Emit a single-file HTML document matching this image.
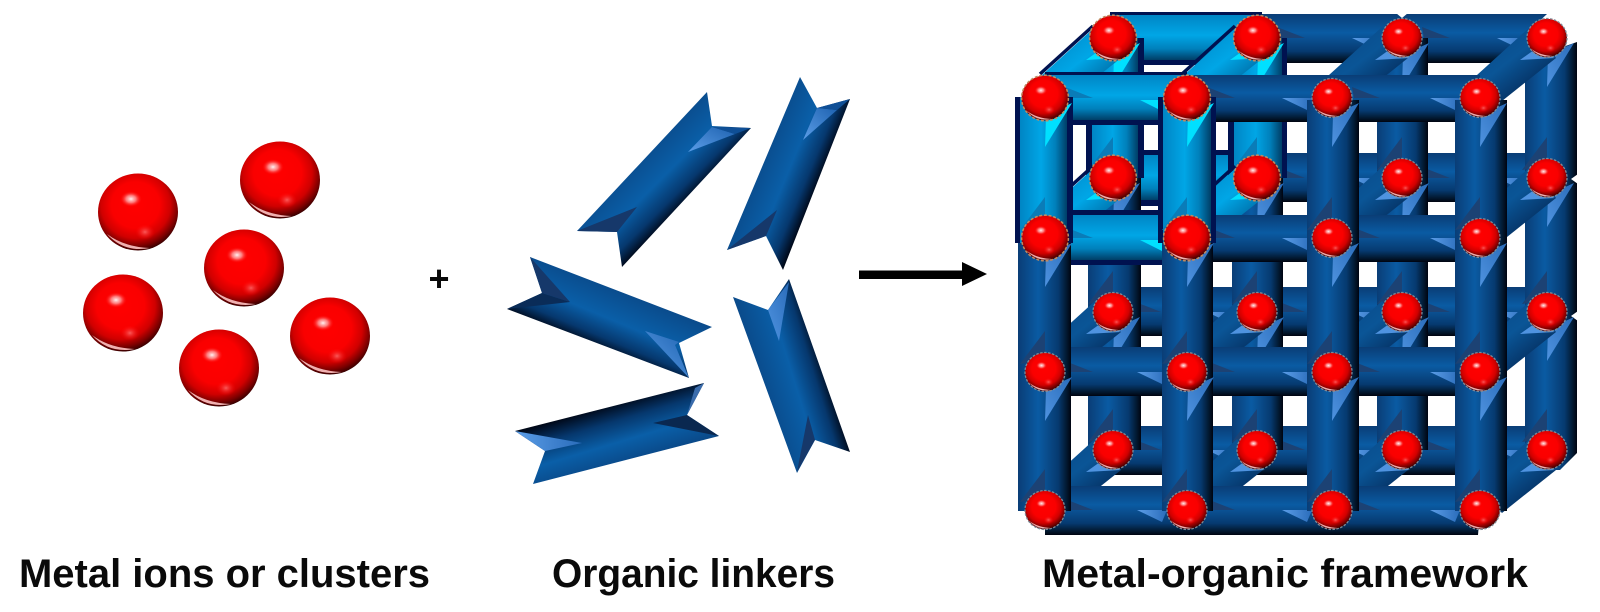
<!DOCTYPE html>
<html>
<head>
<meta charset="utf-8">
<title>Metal-organic framework</title>
<style>
html,body{margin:0;padding:0;background:#fff}
svg{display:block}
text{font-family:"Liberation Sans",sans-serif;font-weight:700;fill:#0a0a0a}
.bh{fill:url(#bh)}.bv{fill:url(#bv)}.ch{fill:url(#ch)}.cv{fill:url(#cv)}.nv{fill:#001250}
</style>
</head>
<body>
<svg width="1600" height="612" viewBox="0 0 1600 612" xmlns="http://www.w3.org/2000/svg">
<defs>
<linearGradient id="bh" x1="0" y1="0" x2="0" y2="1"><stop offset="0" stop-color="#0a3d76"/><stop offset=".38" stop-color="#0a5ba3"/><stop offset=".52" stop-color="#0a4f90"/><stop offset=".76" stop-color="#063a70"/><stop offset=".92" stop-color="#02182f"/><stop offset="1" stop-color="#000410"/></linearGradient>
<linearGradient id="bv" x1="0" y1="0" x2="1" y2="0"><stop offset="0" stop-color="#0a3d76"/><stop offset=".38" stop-color="#0a5ba3"/><stop offset=".52" stop-color="#0a4f90"/><stop offset=".76" stop-color="#063a70"/><stop offset=".92" stop-color="#02182f"/><stop offset="1" stop-color="#000410"/></linearGradient>
<linearGradient id="ch" x1="0" y1="0" x2="0" y2="1"><stop offset="0" stop-color="#0085c4"/><stop offset=".45" stop-color="#00a6e6"/><stop offset=".75" stop-color="#0080bb"/><stop offset="1" stop-color="#003e66"/></linearGradient>
<linearGradient id="cv" x1="0" y1="0" x2="1" y2="0"><stop offset="0" stop-color="#0085c4"/><stop offset=".45" stop-color="#00a6e6"/><stop offset=".75" stop-color="#0080bb"/><stop offset="1" stop-color="#003e66"/></linearGradient>
<linearGradient id="dg" x1=".15" y1=".1" x2=".85" y2=".95"><stop offset="0" stop-color="#0a4a8a"/><stop offset=".4" stop-color="#0a5596"/><stop offset=".75" stop-color="#06366a"/><stop offset="1" stop-color="#000c24"/></linearGradient>
<linearGradient id="cg" x1=".15" y1=".1" x2=".85" y2=".95"><stop offset="0" stop-color="#0088c8"/><stop offset=".45" stop-color="#00a6e6"/><stop offset=".8" stop-color="#006fa8"/><stop offset="1" stop-color="#002848"/></linearGradient>
<radialGradient id="rg" cx=".47" cy=".41" r=".6"><stop offset="0" stop-color="#ff0000"/><stop offset=".5" stop-color="#fa0000"/><stop offset=".72" stop-color="#d00000"/><stop offset=".88" stop-color="#7c0000"/><stop offset="1" stop-color="#300000"/></radialGradient>
<radialGradient id="wg"><stop offset="0" stop-color="#fff" stop-opacity=".95"/><stop offset=".45" stop-color="#ffb0b0" stop-opacity=".7"/><stop offset="1" stop-color="#ff0000" stop-opacity="0"/></radialGradient>
<radialGradient id="pg"><stop offset="0" stop-color="#ff7070" stop-opacity=".8"/><stop offset="1" stop-color="#ff0000" stop-opacity="0"/></radialGradient>
<linearGradient id="l1" gradientUnits="userSpaceOnUse" x1="640" y1="150" x2="690" y2="200"><stop offset="0" stop-color="#0a4a8a"/><stop offset=".5" stop-color="#0a5fa8"/><stop offset=".8" stop-color="#06386e"/><stop offset="1" stop-color="#000818"/></linearGradient>
<linearGradient id="l2" gradientUnits="userSpaceOnUse" x1="760" y1="155" x2="820" y2="180"><stop offset="0" stop-color="#0a4a8a"/><stop offset=".5" stop-color="#0a5fa8"/><stop offset=".8" stop-color="#06386e"/><stop offset="1" stop-color="#000818"/></linearGradient>
<linearGradient id="l3" gradientUnits="userSpaceOnUse" x1="625" y1="290" x2="600" y2="350"><stop offset="0" stop-color="#0a4a8a"/><stop offset=".5" stop-color="#0a5fa8"/><stop offset=".8" stop-color="#06386e"/><stop offset="1" stop-color="#000818"/></linearGradient>
<linearGradient id="l4" gradientUnits="userSpaceOnUse" x1="760" y1="385" x2="825" y2="365"><stop offset="0" stop-color="#0a4a8a"/><stop offset=".5" stop-color="#0a5fa8"/><stop offset=".8" stop-color="#06386e"/><stop offset="1" stop-color="#000818"/></linearGradient>
<linearGradient id="l5" gradientUnits="userSpaceOnUse" x1="608" y1="405" x2="625" y2="462"><stop offset="0" stop-color="#000818"/><stop offset=".3" stop-color="#06386e"/><stop offset=".65" stop-color="#0a5fa8"/><stop offset="1" stop-color="#0a4a8a"/></linearGradient>
<linearGradient id="hl" x1="0" y1="1" x2="1" y2="0"><stop offset="0" stop-color="#5c9ee8"/><stop offset="1" stop-color="#1e62b0"/></linearGradient>
<linearGradient id="hv" x1="0" y1="1" x2="1" y2="0"><stop offset="0" stop-color="#4f93e0"/><stop offset="1" stop-color="#2a6cba"/></linearGradient>
<linearGradient id="hh" x1="0" y1="0" x2="1" y2="0"><stop offset="0" stop-color="#5c9ee8"/><stop offset="1" stop-color="#2a6cba"/></linearGradient>

<g id="s">
<ellipse rx="40" ry="38.5" fill="url(#rg)"/>
<path d="M-31 22Q-14 35 12 36Q-14 41 -31 22Z" fill="#f0b0b0"/>
<ellipse cx="-7" cy="-13" rx="11" ry="8" fill="url(#wg)"/>
<ellipse cx="7" cy="20" rx="10" ry="8" fill="url(#pg)"/>
</g>
<g id="st"><use href="#s"/><ellipse rx="40" ry="39" fill="none" stroke="#c08a60" stroke-width="2.6" stroke-dasharray="5 3"/></g>
<g id="sg"><use href="#s"/><ellipse rx="40" ry="39" fill="none" stroke="#7f8a96" stroke-width="2.6" stroke-dasharray="5 3"/></g>

<polygon id="d" points="-3,-23 50,-71 76,-40 22,3" fill="url(#dg)"/>
<g id="dc"><polygon points="-3,-23 50,-71 76,-40 22,3" fill="url(#cg)"/><path d="M-5 -24L48 -72" stroke="#001250" stroke-width="3.5" fill="none"/></g>
<polygon id="m" points="-27,22 -13,12 8,20" fill="#4f93e0"/>
<polygon id="mc" points="-27,22 -13,12 8,20" fill="#00e0ff"/>
<polygon id="a" points="-50,0 -25,12 -20,0" fill="url(#hh)"/>
<polygon id="b" points="20,-11 48,0 22,0" fill="#1c4274"/>
<polygon id="c" points="0,49 27,5 1,17" fill="url(#hv)"/>
<polygon id="e" points="0,-41 -25,-8 0,-12" fill="#1c4274"/>
<polygon id="ac" points="-47,2 -25,13 -20,2" fill="#00e0ff"/>
<polygon id="bc" points="20,-11 48,0 22,0" fill="#0a7cb8"/>
<polygon id="cc" points="0,49 27,5 1,17" fill="#00e0ff"/>
<polygon id="ec" points="0,-41 -25,-8 0,-12" fill="#0a7cb8"/>
</defs>

<rect width="1600" height="612" fill="#fff"/>

<!-- metal ions -->
<use href="#s" x="138" y="212"/>
<use href="#s" x="280" y="180"/>
<use href="#s" x="244" y="268"/>
<use href="#s" x="123" y="313"/>
<use href="#s" x="219" y="368"/>
<use href="#s" x="330" y="336"/>

<text x="439" y="291" font-size="36" text-anchor="middle">+</text>

<!-- linkers -->
<polygon points="707,92 712,126 751,128 622,267 617,232 577,231" fill="url(#l1)"/>
<polygon points="688,152 712,127 735,134" fill="url(#hl)"/><polygon points="712,127 751,128 735,134" fill="#0f4f96"/>
<polygon points="577,231 637,207 617,232" fill="#16386a"/>

<polygon points="800,77 817,108 850,99 783,270 766,236 727,250" fill="url(#l2)"/>
<polygon points="803,140 817,108 837,110" fill="url(#hl)"/><polygon points="817,108 850,99 837,110" fill="#0f4f96"/>
<polygon points="727,250 777,210 766,236" fill="#16386a"/>

<polygon points="530,257 712,327 679,343 689,378 507,309 542,293" fill="url(#l3)"/>
<polygon points="645,331 679,342 675,345 689,378" fill="url(#hl)"/>
<polygon points="530,257 570,302 542,293" fill="#16386a"/>
<polygon points="507,309 542,293 570,302" fill="#0a2c58"/>

<polygon points="733,297 768,310 789,279 850,452 815,440 797,473" fill="url(#l4)"/>
<polygon points="768,310 789,282 779,341" fill="url(#hv)"/>
<polygon points="797,472 808,415 815,440" fill="#16386a"/>

<polygon points="704,383 687,415 719,436 533,484 545,451 515,431" fill="url(#l5)"/>
<polygon points="515,431 582,443 545,451" fill="url(#hh)"/>
<polygon points="719,436 687,415 653,423" fill="#0a2850"/>
<polygon points="704,383 687,415 695,388" fill="#3a6cac"/>

<!-- arrow -->
<rect x="859" y="270.5" width="104" height="8.5" fill="#000"/>
<polygon points="962,262 987,274 962,286" fill="#000"/>

<!-- back horizontals -->
<polygon points="1257,14 1547,14 1530,30 1530,63 1257,63" class="bh"/>
<rect x="1257" y="153" width="290" height="49" class="bh"/>
<rect x="1113" y="287" width="434" height="49" class="bh"/>
<rect x="1113" y="426" width="434" height="49" class="bh"/>
<polygon points="1396,13 1408,13 1402,18" fill="#fff"/>
<rect x="1110" y="12" width="152" height="53" class="nv"/><rect x="1110" y="15" width="152" height="45" class="ch"/>
<rect x="1113" y="150" width="144" height="56" class="nv"/><rect x="1113" y="155" width="144" height="45" class="ch"/>
<g>
<use href="#b" x="1257" y="38"/><use href="#a" x="1402" y="38"/><use href="#b" x="1402" y="38"/><use href="#a" x="1547" y="38"/>
<use href="#b" x="1257" y="178"/><use href="#a" x="1402" y="178"/><use href="#b" x="1402" y="178"/><use href="#a" x="1547" y="178"/>
<use href="#b" x="1113" y="312"/><use href="#a" x="1257" y="312"/><use href="#b" x="1257" y="312"/><use href="#a" x="1402" y="312"/><use href="#b" x="1402" y="312"/><use href="#a" x="1547" y="312"/>
<use href="#b" x="1113" y="450"/><use href="#a" x="1257" y="450"/><use href="#b" x="1257" y="450"/><use href="#a" x="1402" y="450"/><use href="#b" x="1402" y="450"/><use href="#a" x="1547" y="450"/>
</g>

<!-- back verticals -->
<rect x="1088" y="178" width="53" height="272" class="bv"/>
<rect x="1232" y="178" width="51" height="272" class="bv"/>
<rect x="1377" y="38" width="51" height="412" class="bv"/>
<polygon points="1525,60 1577,42 1577,453 1560,470 1525,470" class="bv"/>
<polygon points="1578,174 1571,179 1578,184" fill="#fff"/>
<polygon points="1578,311 1571,316 1578,321" fill="#fff"/>
<rect x="1086" y="38" width="58" height="140" class="nv"/><rect x="1092" y="38" width="46" height="140" class="cv"/>
<rect x="1228" y="38" width="59" height="140" class="nv"/><rect x="1234" y="38" width="48" height="140" class="cv"/>
<g>
<use href="#c" x="1113" y="178"/><use href="#e" x="1113" y="312"/><use href="#c" x="1113" y="312"/><use href="#e" x="1113" y="450"/>
<use href="#c" x="1257" y="178"/><use href="#e" x="1257" y="312"/><use href="#c" x="1257" y="312"/><use href="#e" x="1257" y="450"/>
<use href="#c" x="1402" y="38"/><use href="#e" x="1402" y="178"/><use href="#c" x="1402" y="178"/><use href="#e" x="1402" y="312"/><use href="#c" x="1402" y="312"/><use href="#e" x="1402" y="450"/>
<use href="#c" x="1547" y="38"/><use href="#e" x="1547" y="178"/><use href="#c" x="1547" y="178"/><use href="#e" x="1547" y="312"/><use href="#c" x="1547" y="312"/><use href="#e" x="1547" y="450"/>
<use href="#ec" x="1113" y="178"/><use href="#cc" x="1113" y="38"/>
<use href="#ec" x="1257" y="178"/><use href="#cc" x="1257" y="38"/>
</g>

<!-- diagonals -->
<use href="#dc" x="1045" y="98"/><use href="#dc" x="1187" y="98"/>
<use href="#d" x="1332" y="98"/><use href="#d" x="1480" y="98"/>
<use href="#dc" x="1045" y="238"/><use href="#dc" x="1187" y="238"/>
<use href="#d" x="1332" y="238"/><use href="#d" x="1480" y="238"/>
<use href="#d" x="1045" y="372"/><use href="#d" x="1187" y="372"/><use href="#d" x="1332" y="372"/><use href="#d" x="1480" y="372"/>
<use href="#d" x="1045" y="510"/><use href="#d" x="1187" y="510"/><use href="#d" x="1332" y="510"/><use href="#d" x="1480" y="510"/>
<g>
<use href="#mc" x="1113" y="38"/><use href="#mc" x="1257" y="38"/><use href="#m" x="1402" y="38"/><use href="#m" x="1547" y="38"/>
<use href="#mc" x="1113" y="178"/><use href="#mc" x="1257" y="178"/><use href="#m" x="1402" y="178"/><use href="#m" x="1547" y="178"/>
<use href="#m" x="1113" y="312"/><use href="#m" x="1257" y="312"/><use href="#m" x="1402" y="312"/><use href="#m" x="1547" y="312"/>
<use href="#m" x="1113" y="450"/><use href="#m" x="1257" y="450"/><use href="#m" x="1402" y="450"/><use href="#m" x="1547" y="450"/>
</g>

<!-- back spheres -->
<use href="#st" transform="translate(1113 38) scale(.585)"/><use href="#st" transform="translate(1257 38) scale(.585)"/>
<use href="#sg" transform="translate(1402 38) scale(.5)"/><use href="#sg" transform="translate(1547 38) scale(.5)"/>
<use href="#st" transform="translate(1113 178) scale(.585)"/><use href="#st" transform="translate(1257 178) scale(.585)"/>
<use href="#sg" transform="translate(1402 178) scale(.5)"/><use href="#sg" transform="translate(1547 178) scale(.5)"/>
<use href="#sg" transform="translate(1113 312) scale(.5)"/><use href="#sg" transform="translate(1257 312) scale(.5)"/>
<use href="#sg" transform="translate(1402 312) scale(.5)"/><use href="#sg" transform="translate(1547 312) scale(.5)"/>
<use href="#sg" transform="translate(1113 450) scale(.5)"/><use href="#sg" transform="translate(1257 450) scale(.5)"/>
<use href="#sg" transform="translate(1402 450) scale(.5)"/><use href="#sg" transform="translate(1547 450) scale(.5)"/>

<!-- front horizontals -->
<rect x="1187" y="75" width="293" height="47" class="bh"/>
<rect x="1187" y="215" width="293" height="47" class="bh"/>
<rect x="1045" y="347" width="435" height="49" class="bh"/>
<polygon points="1071,486 1455,486 1480,511 1478,535 1045,535 1045,511" class="bh"/>
<rect x="1045" y="72" width="142" height="53" class="nv"/><rect x="1045" y="75" width="142" height="45" class="ch"/>
<rect x="1045" y="210" width="142" height="55" class="nv"/><rect x="1045" y="215" width="142" height="45" class="ch"/>
<g>
<use href="#bc" x="1045" y="98"/><use href="#ac" x="1187" y="98"/><use href="#b" x="1187" y="98"/><use href="#a" x="1332" y="98"/><use href="#b" x="1332" y="98"/><use href="#a" x="1480" y="98"/>
<use href="#bc" x="1045" y="238"/><use href="#ac" x="1187" y="238"/><use href="#b" x="1187" y="238"/><use href="#a" x="1332" y="238"/><use href="#b" x="1332" y="238"/><use href="#a" x="1480" y="238"/>
<use href="#b" x="1045" y="372"/><use href="#a" x="1187" y="372"/><use href="#b" x="1187" y="372"/><use href="#a" x="1332" y="372"/><use href="#b" x="1332" y="372"/><use href="#a" x="1480" y="372"/>
<use href="#b" x="1045" y="510"/><use href="#a" x="1187" y="510"/><use href="#b" x="1187" y="510"/><use href="#a" x="1332" y="510"/><use href="#b" x="1332" y="510"/><use href="#a" x="1480" y="510"/>
</g>

<!-- front verticals -->
<rect x="1018" y="238" width="53" height="273" class="bv"/>
<rect x="1162" y="238" width="51" height="273" class="bv"/>
<rect x="1307" y="100" width="52" height="411" class="bv"/>
<rect x="1455" y="100" width="52" height="411" class="bv"/>
<rect x="1015" y="97" width="58" height="146" class="nv"/><rect x="1020" y="97" width="47" height="146" class="cv"/>
<rect x="1158" y="97" width="58" height="146" class="nv"/><rect x="1163" y="97" width="48" height="146" class="cv"/>
<g>
<use href="#cc" x="1045" y="98"/><use href="#ec" x="1045" y="238"/><use href="#c" x="1045" y="238"/><use href="#e" x="1045" y="372"/><use href="#c" x="1045" y="372"/><use href="#e" x="1045" y="510"/>
<use href="#cc" x="1187" y="98"/><use href="#ec" x="1187" y="238"/><use href="#c" x="1187" y="238"/><use href="#e" x="1187" y="372"/><use href="#c" x="1187" y="372"/><use href="#e" x="1187" y="510"/>
<use href="#c" x="1332" y="98"/><use href="#e" x="1332" y="238"/><use href="#c" x="1332" y="238"/><use href="#e" x="1332" y="372"/><use href="#c" x="1332" y="372"/><use href="#e" x="1332" y="510"/>
<use href="#c" x="1480" y="98"/><use href="#e" x="1480" y="238"/><use href="#c" x="1480" y="238"/><use href="#e" x="1480" y="372"/><use href="#c" x="1480" y="372"/><use href="#e" x="1480" y="510"/>
</g>

<!-- front spheres -->
<use href="#st" transform="translate(1045 98) scale(.585)"/><use href="#st" transform="translate(1187 98) scale(.585)"/>
<use href="#sg" transform="translate(1332 98) scale(.5)"/><use href="#sg" transform="translate(1480 98) scale(.5)"/>
<use href="#st" transform="translate(1045 238) scale(.585)"/><use href="#st" transform="translate(1187 238) scale(.585)"/>
<use href="#sg" transform="translate(1332 238) scale(.5)"/><use href="#sg" transform="translate(1480 238) scale(.5)"/>
<use href="#sg" transform="translate(1045 372) scale(.5)"/><use href="#sg" transform="translate(1187 372) scale(.5)"/>
<use href="#sg" transform="translate(1332 372) scale(.5)"/><use href="#sg" transform="translate(1480 372) scale(.5)"/>
<use href="#sg" transform="translate(1045 510) scale(.5)"/><use href="#sg" transform="translate(1187 510) scale(.5)"/>
<use href="#sg" transform="translate(1332 510) scale(.5)"/><use href="#sg" transform="translate(1480 510) scale(.5)"/>

<!-- labels -->
<text x="19" y="587" font-size="40" textLength="411" lengthAdjust="spacingAndGlyphs">Metal ions or clusters</text>
<text x="552" y="587" font-size="40" textLength="283" lengthAdjust="spacingAndGlyphs">Organic linkers</text>
<text x="1042" y="587" font-size="40" textLength="486" lengthAdjust="spacingAndGlyphs">Metal-organic framework</text>
</svg>
</body>
</html>
